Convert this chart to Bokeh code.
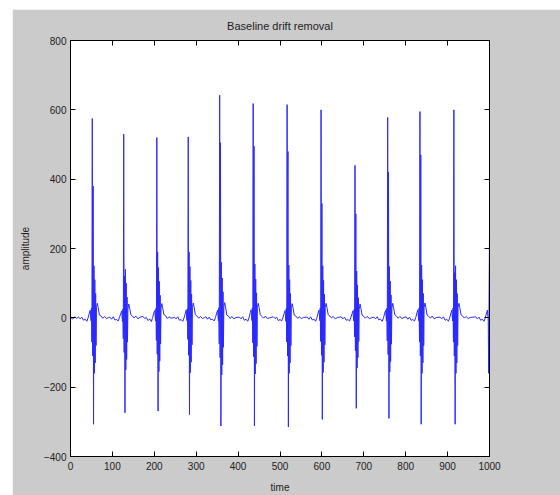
from bokeh.plotting import figure
from bokeh.models import LinearAxis, Range1d, FixedTicker
from bokeh.embed import file_html
from bokeh.resources import INLINE

# ECG samples after baseline drift removal
time = [
    0, 5, 10, 15,
    19, 23, 27, 31, 35, 39, 42, 45, 47, 49, 50, 51, 52, 53, 54, 55, 56, 57, 58, 59, 60, 61, 62, 64, 66, 69, 73, 77, 81, 86, 91,
    94, 98, 102, 106, 110, 114, 117, 120, 122, 124, 125, 126, 127, 128, 129, 130, 131, 132, 133, 134, 135, 136, 137, 139, 141, 144, 148, 152, 156, 161, 166,
    173, 177, 181, 185, 189, 193, 196, 199, 201, 203, 204, 205, 206, 207, 208, 209, 210, 211, 212, 213, 214, 215, 216, 218, 220, 223, 227, 231, 235, 240, 245,
    248, 252, 256, 260, 264, 268, 271, 274, 276, 278, 279, 280, 281, 282, 283, 284, 285, 286, 287, 288, 289, 290, 291, 293, 295, 298, 302, 306, 310, 315, 320,
    323, 327, 331, 335, 339, 343, 346, 349, 351, 353, 354, 355, 356, 357, 358, 359, 360, 361, 362, 363, 364, 365, 366, 368, 370, 373, 377, 381, 385, 390, 395,
    403, 407, 411, 415, 419, 423, 426, 429, 431, 433, 434, 435, 436, 437, 438, 439, 440, 441, 442, 443, 444, 445, 446, 448, 450, 453, 457, 461, 465, 470, 475,
    484, 488, 492, 496, 500, 504, 507, 510, 512, 514, 515, 516, 517, 518, 519, 520, 521, 522, 523, 524, 525, 526, 527, 529, 531, 534, 538, 542, 546, 551, 556,
    565, 569, 573, 577, 581, 585, 588, 591, 593, 595, 596, 597, 598, 599, 600, 601, 602, 603, 604, 605, 606, 607, 608, 610, 612, 615, 619, 623, 627, 632, 637,
    646, 650, 654, 658, 662, 666, 669, 672, 674, 676, 677, 678, 679, 680, 681, 682, 683, 684, 685, 686, 687, 688, 689, 691, 693, 696, 700, 704, 708, 713, 718,
    724, 728, 732, 736, 740, 744, 747, 750, 752, 754, 755, 756, 757, 758, 759, 760, 761, 762, 763, 764, 765, 766, 767, 769, 771, 774, 778, 782, 786, 791, 796,
    801, 805, 809, 813, 817, 821, 824, 827, 829, 831, 832, 833, 834, 835, 836, 837, 838, 839, 840, 841, 842, 843, 844, 846, 848, 851, 855, 859, 863, 868, 873,
    882, 886, 890, 894, 898, 902, 905, 908, 910, 912, 913, 914, 915, 916, 917, 918, 919, 920, 921, 922, 923, 924, 925, 927, 929, 932, 936, 940, 944, 949, 954,
    967, 971, 975, 979, 983, 987, 990, 993, 995, 997, 998, 999, 1000,
]
amplitude = [
    2, -4, 3, -2,
    3, -3, 2, -7, -4, -10, 0, 14, 22, -8, 28, -70, 575, -110, 380, -307, 150, -160, 110, -130, 70, -80, 30, 42, 30, 8, 5, -1, 4, -2, 1,
    2, -4, 3, -6, -5, -9, 2, 12, 20, -10, 25, -60, 530, -100, 120, -274, 140, -150, 100, -120, 60, -70, 25, 40, 28, 10, 4, 0, 5, -3, 2,
    4, -2, 1, -8, -3, -11, 1, 15, 21, -9, 27, -65, 520, -105, 190, -269, 145, -155, 105, -125, 65, -75, 28, 41, 29, 9, 6, -2, 3, -1, 0,
    2, -3, 3, -7, -5, -10, 0, 13, 23, -8, 26, -62, 522, -108, 190, -279, 148, -158, 108, -128, 68, -78, 30, 43, 31, 9, 5, -1, 4, -2, 1,
    3, -4, 2, -6, -4, -9, 1, 14, 22, -9, 29, -75, 642, -115, 505, -312, 160, -165, 115, -135, 75, -85, 32, 44, 32, 8, 5, -2, 4, -3, 1,
    2, -3, 3, -7, -4, -10, 0, 15, 23, -8, 28, -72, 618, -112, 495, -312, 155, -162, 112, -132, 72, -82, 30, 42, 30, 9, 4, -1, 5, -2, 0,
    3, -2, 2, -8, -5, -9, 1, 13, 21, -10, 27, -70, 615, -110, 480, -315, 152, -160, 110, -130, 70, -80, 29, 41, 29, 8, 5, -1, 3, -2, 1,
    2, -4, 3, -6, -4, -10, 0, 14, 22, -8, 28, -68, 600, -108, 330, -293, 150, -158, 108, -128, 68, -78, 30, 42, 30, 9, 5, 0, 4, -3, 1,
    3, -3, 2, -7, -5, -9, 1, 12, 20, -9, 24, -55, 440, -95, 300, -261, 135, -145, 95, -115, 58, -68, 25, 40, 28, 8, 4, -1, 4, -2, 0,
    2, -3, 3, -6, -4, -10, 0, 14, 22, -9, 27, -66, 578, -106, 420, -290, 148, -156, 106, -126, 66, -76, 28, 42, 30, 9, 5, -1, 4, -2, 1,
    3, -4, 2, -7, -5, -9, 1, 15, 23, -8, 28, -70, 595, -110, 470, -307, 152, -160, 110, -130, 70, -80, 30, 43, 31, 8, 4, -1, 5, -3, 1,
    2, -3, 3, -7, -4, -10, 0, 14, 22, -9, 28, -70, 600, -110, 130, -307, 150, -160, 110, -130, 70, -80, 30, 42, 30, 9, 5, -1, 4, -2, 1,
    3, -3, 2, -7, -4, -10, 0, 14, 22, -8, -160, 60, 240,
]
x_ticks = [0, 100, 200, 300, 400, 500, 600, 700, 800, 900, 1000]
y_ticks = [-400, -200, 0, 200, 400, 600, 800]

GRAY = "#cbcbcb"
FONT = "Liberation Sans"

p = figure(
    width=548, height=486, margin=(9, 0, 0, 12),
    output_backend="svg", toolbar_location=None,
    x_range=Range1d(0, 1000), y_range=Range1d(-400, 800),
    title="Baseline drift removal",
    min_border_left=58, min_border_right=71, min_border_top=0, min_border_bottom=39,
)
p.background_fill_color = "white"
p.border_fill_color = GRAY
p.outline_line_color = "black"
p.grid.visible = False

p.title.align = "center"
p.title.text_font = FONT
p.title.text_font_size = "11px"
p.title.text_font_style = "normal"
p.title.text_color = "#222222"
p.title.standoff = 17

p.line(time, amplitude, line_color="#2a2aff", line_width=1)

p.xaxis.axis_label = "time"
p.yaxis.axis_label = "amplitude"

for ax in [p.xaxis[0], p.yaxis[0]]:
    ax.axis_label_text_font = FONT
    ax.axis_label_text_font_size = "10px"
    ax.axis_label_text_font_style = "normal"
    ax.axis_label_text_color = "#222222"
    ax.major_label_text_font = FONT
    ax.major_label_text_font_size = "10px"
    ax.major_label_text_color = "#222222"
    ax.major_tick_in = 5
    ax.major_tick_out = 0
    ax.minor_tick_line_color = None
    ax.axis_line_color = "black"
    ax.major_tick_line_color = "black"

p.xaxis[0].major_label_standoff = 5
p.xaxis[0].axis_label_standoff = 9
p.yaxis[0].major_label_standoff = 4
p.yaxis[0].axis_label_standoff = 10

p.xaxis[0].ticker = FixedTicker(ticks=x_ticks)
p.yaxis[0].ticker = FixedTicker(ticks=y_ticks)

top = LinearAxis(ticker=FixedTicker(ticks=x_ticks), major_label_text_color=None,
                 major_tick_in=5, major_tick_out=0, minor_tick_line_color=None,
                 major_label_text_font_size="0px", major_label_standoff=0)
right = LinearAxis(ticker=FixedTicker(ticks=y_ticks), major_label_text_color=None,
                   major_tick_in=5, major_tick_out=0, minor_tick_line_color=None,
                   major_label_text_font_size="0px", major_label_standoff=0)
p.add_layout(top, "above")
p.add_layout(right, "right")

open("out.html", "w").write(file_html(p, INLINE))
